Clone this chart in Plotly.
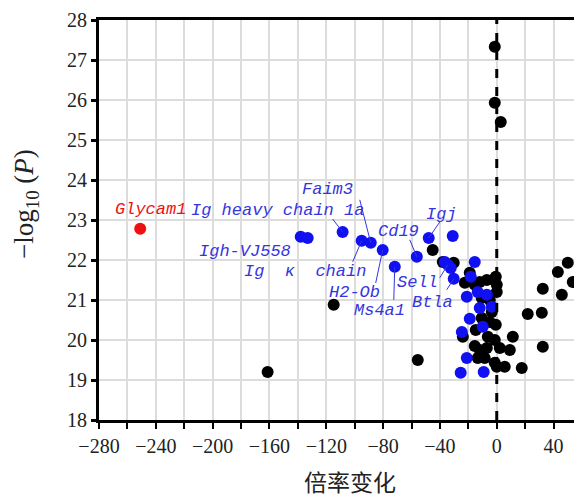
import plotly.graph_objects as go

# ---- data ----
black_x = [-1.4, -1.4, 2.8, -114.8, -161.3, -55.6, -45.1, -38.0, -30.3, -19.0, -22.5, -12.0, -7.0, -0.7,
           0.0, 0.0, -10.6, -3.5, -10.6, -0.7, -23.9, -6.3, -1.4, -15.5, -12.0, -7.0, 2.1, -10.6, -8.5,
           -1.4, 5.6, 0.0, 11.3, 9.2, 17.6, 21.8, 31.7, 32.4, 32.4, 43.0, 50.0, 53.5, 45.8, -15.5, -4.9,
           -14.8, -4.9, -13.4]
black_y = [27.33, 25.93, 25.45, 20.88, 19.2, 19.5, 22.25, 21.95, 21.93, 21.68, 21.43, 21.45, 21.5, 21.58,
           21.38, 21.2, 21.05, 20.7, 20.55, 20.38, 20.08, 20.08, 20.0, 19.85, 19.75, 19.8, 19.8, 19.63, 19.55,
           19.43, 19.33, 19.33, 20.08, 19.75, 19.3, 20.65, 20.68, 21.28, 19.83, 21.7, 21.93, 21.45, 21.13,
           21.38, 21.0, 20.25, 20.45, 19.55]

blue_x = [-138.0, -133.1, -108.5, -95.1, -88.7, -80.3, -71.8, -56.3, -47.9, -31.0, -36.6, -34.5, -32.4,
          -30.3, -15.5, -18.3, -21.1, -13.4, -7.0, -12.0, -3.5, -19.0, -9.9, -24.6, -21.1, -25.4, -9.2]
blue_y = [22.58, 22.55, 22.7, 22.48, 22.43, 22.25, 21.83, 22.08, 22.55, 22.6, 21.95, 21.88, 21.8,
          21.53, 21.95, 21.58, 21.08, 21.2, 21.13, 20.8, 20.83, 20.53, 20.33, 20.2, 19.55, 19.18, 19.2]

red_x = [-251.0]
red_y = [22.78]
red_label = "Glycam1"

# labelled blue genes: (name, index into blue arrays)
label_names = ["Igh-VJ558", "Ig heavy chain 1a", "Faim3", "Ig  κ  chain", "H2-Ob", "Ms4a1",
               "Cd19", "Igj", "Sell", "Btla"]
label_index = [0, 2, 4, 3, 5, 6, 7, 8, 11, 13]

x_tickvals = [-280, -240, -200, -160, -120, -80, -40, 0, 40]
y_tickvals = [18, 19, 20, 21, 22, 23, 24, 25, 26, 27, 28]
x_title = "倍率变化"
y_title = "−log<sub>10</sub> (<i>P</i>)"

# ---- styling / layout offsets (pixels, screen: +y down) ----
text_off = [(-56, 15), (-65, -22), (-43, -53), (-57, 31), (-28, 42), (-15, 44),
            (-18, -25), (13, -24), (-30, 18), (-21, 24)]
line_off = [(-11, 8), (-10, -13), (-11, -43), (-9, 21), (-7, 33), (-1, 33),
            (-7, -17), (11, -16), (-8, 13), (-7, 11)]

BLUE = "#1010f0"
LBLUE = "#3535e0"
RED = "#ee1111"
LABEL_FONT = "Liberation Mono"

fig = go.Figure()
fig.add_trace(go.Scatter(x=black_x, y=black_y, mode="markers",
                         marker=dict(color="black", size=12), showlegend=False))
fig.add_trace(go.Scatter(x=blue_x, y=blue_y, mode="markers",
                         marker=dict(color=BLUE, size=12), showlegend=False))
fig.add_trace(go.Scatter(x=red_x, y=red_y, mode="markers",
                         marker=dict(color=RED, size=12), showlegend=False))

# vertical dashed line at 0
fig.add_vline(x=0, line=dict(color="black", width=3, dash="dash"))

annotations = []
shapes = []
for name, idx, (tx, ty), (lx, ly) in zip(label_names, label_index, text_off, line_off):
    px, py = blue_x[idx], blue_y[idx]
    shapes.append(dict(type="line", xref="x", yref="y", xsizemode="pixel", ysizemode="pixel",
                       xanchor=px, yanchor=py, x0=0, y0=0, x1=lx, y1=-ly,
                       line=dict(color=LBLUE, width=1)))
    annotations.append(dict(x=px, y=py, xref="x", yref="y", text="<i>%s</i>" % name,
                            showarrow=False, xshift=tx, yshift=-ty,
                            font=dict(family=LABEL_FONT, size=17, color=LBLUE)))
annotations.append(dict(x=red_x[0], y=red_y[0], xref="x", yref="y", text="<i>%s</i>" % red_label,
                        showarrow=False, xshift=10, yshift=19,
                        font=dict(family=LABEL_FONT, size=17, color=RED)))

# axis titles
annotations.append(dict(x=0.5, y=0, xref="paper", yref="paper", text=x_title, showarrow=False,
                        xshift=9, yshift=-61, yanchor="middle",
                        font=dict(family="Noto Sans CJK SC", size=23, color="#222")))
annotations.append(dict(x=0, y=0.5, xref="paper", yref="paper", text=y_title, showarrow=False,
                        textangle=-90, xshift=-73, yshift=16, xanchor="center",
                        font=dict(family="Liberation Serif", size=27, color="#222")))

# the page body adds an 8px offset; size the figure so the plot sits where the reference has it
fig.update_layout(
    width=574, height=491,
    margin=dict(l=91, r=0, t=12, b=79),
    plot_bgcolor="white", paper_bgcolor="white",
    annotations=annotations, shapes=shapes,
    font=dict(family="Liberation Serif", size=20, color="#222"),
)
fig.update_xaxes(
    range=[-280, 60], tickvals=x_tickvals, ticktext=["−" + str(-v) if v < 0 else str(v) for v in x_tickvals],
    showgrid=True, gridcolor="#dcdcdc", gridwidth=1.5,
    minor=dict(dtick=20, tick0=0, ticks="outside", ticklen=6, tickwidth=2, tickcolor="black",
               showgrid=True, gridcolor="#dcdcdc", gridwidth=1.5),
    ticks="outside", ticklen=6, tickwidth=2, tickcolor="black",
    showline=True, linecolor="black", linewidth=3, mirror=True, zeroline=False,
    automargin=False,
    tickfont=dict(family="Liberation Serif", size=20, color="#222"),
)
fig.update_yaxes(
    range=[18, 28], tickvals=y_tickvals,
    showgrid=True, gridcolor="#dcdcdc", gridwidth=1.5,
    ticks="outside", ticklen=5, tickwidth=3, tickcolor="black",
    showline=True, linecolor="black", linewidth=3, zeroline=False,
    automargin=False,
    tickfont=dict(family="Liberation Serif", size=20, color="#222"),
)

fig.write_html("out.html")
